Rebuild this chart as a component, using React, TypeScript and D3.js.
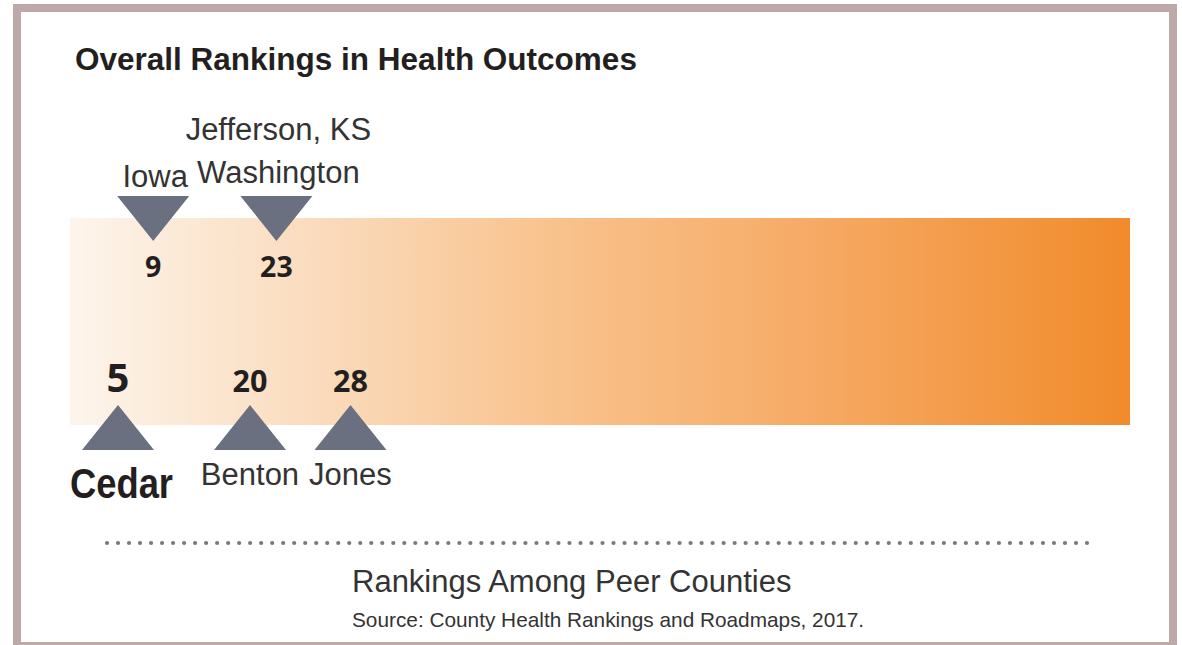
import React from "react";
import * as d3 from "d3";

const title = "Overall Rankings in Health Outcomes";
const axisTitle = "Rankings Among Peer Counties";
const source = "Source: County Health Rankings and Roadmaps, 2017.";

// counties above the bar (pointing down)
const aboveNames: string[][] = [["Iowa"], ["Jefferson, KS", "Washington"]];
const aboveRanks = [9, 23];
// counties below the bar (pointing up)
const belowNames = ["Cedar", "Benton", "Jones"];
const belowRanks = [5, 20, 28];
const highlight = "Cedar";

const rankDomain = [0, 120];

const W = 1182;
const H = 645;

const sans = "'Liberation Sans', Arial, Helvetica, sans-serif";
const numFont = "'Open Sans', 'Liberation Sans', sans-serif";

function measure(text: string, font: string): number {
  if (typeof document === "undefined") return text.length * 15;
  const c = document.createElement("canvas");
  const ctx = c.getContext("2d");
  if (!ctx) return text.length * 15;
  ctx.font = font;
  return ctx.measureText(text).width;
}

export default function App() {
  const x = d3.scaleLinear().domain(rankDomain).range([74, 1130]);
  const barX0 = 70;
  const barX1 = 1130;
  const barY0 = 218;
  const barY1 = 425;
  const triW = 72;
  const triH = 45;
  const triColor = "#6b7080";
  const labelSize = 31;
  const cedarLen = 103;

  // place below-markers on the scale, then dodge overlapping labels to the right
  const below = belowRanks
    .map((r, i) => ({ rank: r, name: belowNames[i] }))
    .sort((a, b) => a.rank - b.rank)
    .map((d) => ({
      ...d,
      hi: d.name === highlight,
      w: d.name === highlight ? cedarLen : measure(d.name, `${labelSize}px ${sans}`),
      cx: x(d.rank),
    }));
  const gap = 10;
  for (let i = 1; i < below.length; i++) {
    const p = below[i - 1];
    const c = below[i];
    const minC = p.cx + p.w / 2 + gap + c.w / 2;
    if (c.cx < minC) c.cx = minC;
  }

  const down = (cx: number) => {
    const p = d3.path();
    p.moveTo(cx - triW / 2, 196);
    p.lineTo(cx + triW / 2, 196);
    p.lineTo(cx, 196 + triH);
    p.closePath();
    return p.toString();
  };
  const up = (cx: number) => {
    const p = d3.path();
    p.moveTo(cx - triW / 2, 450);
    p.lineTo(cx + triW / 2, 450);
    p.lineTo(cx, 450 - triH);
    p.closePath();
    return p.toString();
  };

  const nDots = 90;
  const dotX = d3.scaleLinear().domain([0, nDots - 1]).range([107, 1087]);
  const dots = d3.range(nDots).map((i) => dotX(i));

  return (
    <svg
      width={W}
      height={H}
      style={{ position: "absolute", left: 0, top: 0, background: "#fff" }}
    >
      <defs>
        <linearGradient id="barGrad" x1="0" x2="1" y1="0" y2="0">
          <stop offset="0" stopColor="#fdf5ec" />
          <stop offset="0.28" stopColor="#fad6b3" />
          <stop offset="0.45" stopColor="#f9c38e" />
          <stop offset="0.7" stopColor="#f6aa65" />
          <stop offset="1" stopColor="#f18b2b" />
        </linearGradient>
      </defs>
      {/* frame */}
      <rect x={13} y={4} width={1164} height={8} fill="#bfa8a8" />
      <rect x={13} y={4} width={8} height={640} fill="#bfa8a8" />
      <rect x={1169} y={4} width={8} height={640} fill="#bfa8a8" />
      <rect x={13} y={642} width={1164} height={3} fill="#bfa8a8" />

      <text
        x={75}
        y={70}
        fontFamily={sans}
        fontWeight={700}
        fontSize={31.5}
        fill="#231f20"
      >
        {title}
      </text>

      <rect
        x={barX0}
        y={barY0}
        width={barX1 - barX0}
        height={barY1 - barY0}
        fill="url(#barGrad)"
      />

      {aboveRanks.map((r, i) => {
        const cx = x(r);
        const names = aboveNames[i];
        return (
          <g key={"a" + i}>
            <path d={down(cx)} fill={triColor} />
            {names.map((n, j) => (
              <text
                key={n}
                x={cx + 2}
                y={
                  (names.length > 1 ? 183 : 187) -
                  (names.length - 1 - j) * 43
                }
                textAnchor="middle"
                fontFamily={sans}
                fontSize={labelSize}
                fill="#333"
              >
                {n}
              </text>
            ))}
            <text
              x={cx}
              y={277}
              textAnchor="middle"
              fontFamily={numFont}
              fontWeight={700}
              fontSize={28.5}
              fill="#231f20"
            >
              {r}
            </text>
          </g>
        );
      })}

      {below.map((d, i) => {
        const cx = d.cx;
        return (
          <g key={"b" + i}>
            <path d={up(cx)} fill={triColor} />
            <text
              x={cx}
              y={392}
              textAnchor="middle"
              fontFamily={numFont}
              fontWeight={700}
              fontSize={d.hi ? 40 : 30.5}
              fill="#231f20"
            >
              {d.rank}
            </text>
            {d.hi ? (
              <text
                x={cx + 3.5}
                y={498}
                textAnchor="middle"
                fontFamily={sans}
                fontWeight={700}
                fontSize={42}
                textLength={cedarLen}
                lengthAdjust="spacingAndGlyphs"
                fill="#231f20"
              >
                {d.name}
              </text>
            ) : (
              <text
                x={cx}
                y={485}
                textAnchor="middle"
                fontFamily={sans}
                fontSize={labelSize}
                fill="#333"
              >
                {d.name}
              </text>
            )}
          </g>
        );
      })}

      {dots.map((d, i) => (
        <circle key={i} cx={d} cy={543} r={2.1} fill="#7a7a7a" />
      ))}

      <text x={352} y={592} fontFamily={sans} fontSize={31} fill="#333">
        {axisTitle}
      </text>
      <text x={352} y={627} fontFamily={sans} fontSize={20.8} fill="#333">
        {source}
      </text>
    </svg>
  );
}
